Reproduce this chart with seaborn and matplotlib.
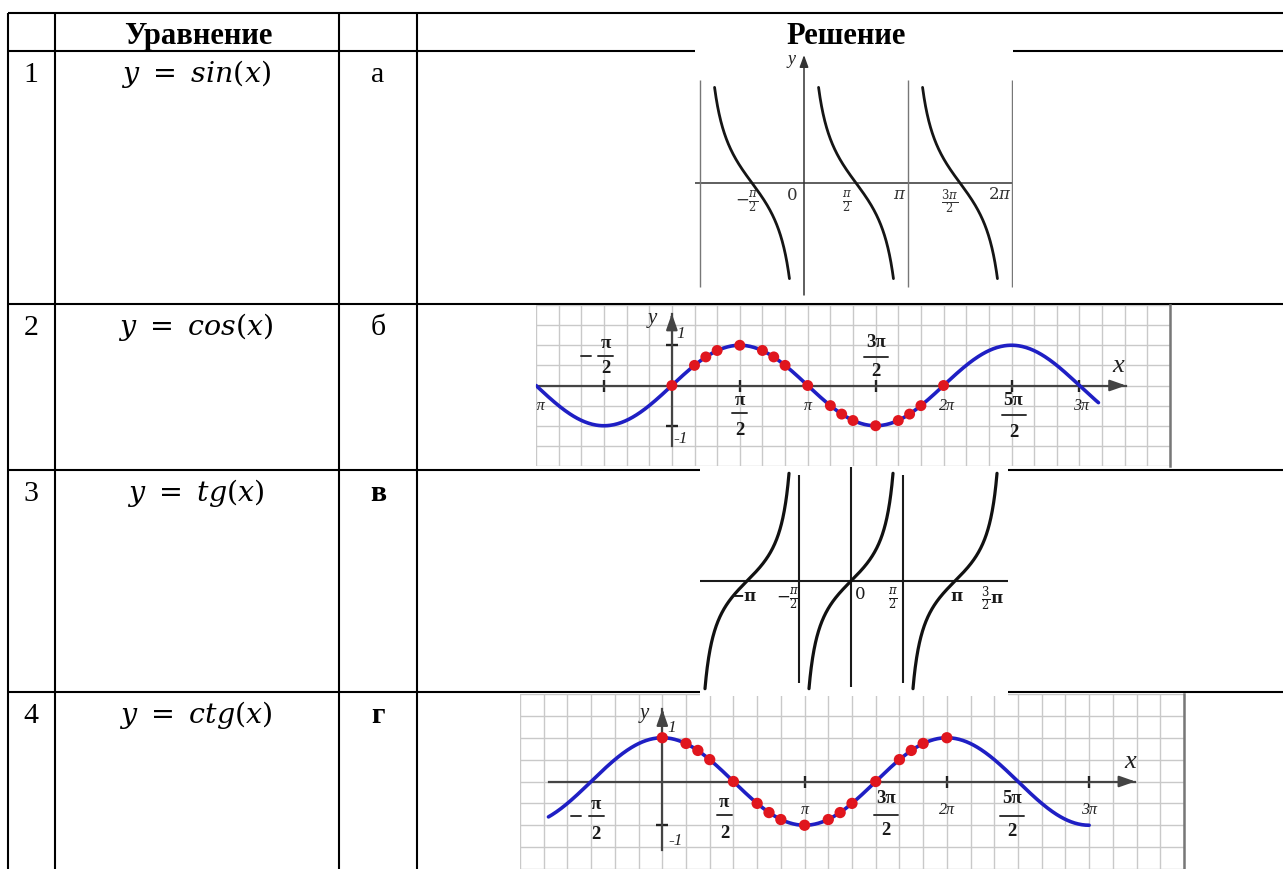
import numpy as np
import matplotlib
matplotlib.use("Agg")
import matplotlib.pyplot as plt
import matplotlib.transforms as mtransforms
from matplotlib.lines import Line2D
import seaborn as sns

PI = np.pi

# ---------------- table content ----------------
row_numbers = ["1", "2", "3", "4"]
equations = [r"$y\ =\ sin(x)$", r"$y\ =\ cos(x)$", r"$y\ =\ tg(x)$", r"$y\ =\ ctg(x)$"]
answer_letters = ["а", "б", "в", "г"]
answer_bold = [False, False, True, True]
header_equation = "Уравнение"
header_solution = "Решение"

# ---------------- graph «а»: y = ctg x ----------------
cot_branch_starts = [-PI, 0.0, PI]           # left asymptote of each drawn branch
cot_branch_span = (0.14, 0.86)               # drawn part of each period (units of pi)
cot_asymptotes = [-PI, PI, 2 * PI]
cot_ticks = [-PI / 2, 0, PI / 2, PI, 3 * PI / 2, 2 * PI]
cot_tick_labels = [r"$-\frac{\pi}{2}$", r"$0$", r"$\frac{\pi}{2}$", r"$\pi$",
                   r"$\frac{3\pi}{2}$", r"$2\pi$"]

# ---------------- graph «б»: y = sin x ----------------
sin_x_range = (-1.0, 3.14)                   # units of pi
marked_angles = [0, 1/6, 1/4, 1/3, 1/2, 2/3, 3/4, 5/6, 1,
                 7/6, 5/4, 4/3, 3/2, 5/3, 7/4, 11/6, 2]   # units of pi
sin_marked_values = [0, 0.5, 0.71, 0.87, 1, 0.87, 0.71, 0.5, 0,
                     -0.5, -0.71, -0.87, -1, -0.87, -0.71, -0.5, 0]
sin_ticks = [-PI / 2, PI / 2, 3 * PI / 2, 5 * PI / 2]
sin_frac_labels = [("π", True), ("π", False), ("3π", False), ("5π", False)]
sin_italic_ticks = [-PI, PI, 2 * PI, 3 * PI]
sin_italic_labels = ["−π", "π", "2π", "3π"]

# ---------------- graph «в»: y = tg x ----------------
tan_branch_centers = [-PI, 0.0, PI]
tan_branch_half = 0.404                      # units of pi
tan_asymptotes = [-PI / 2, PI / 2]
tan_ticks = [-PI, -PI / 2, 0, PI / 2, PI, 3 * PI / 2]
tan_tick_labels = [r"$\mathbf{-\pi}$", r"$-\frac{\pi}{2}$", r"$0$", r"$\frac{\pi}{2}$",
                   r"$\mathbf{\pi}$", r"$\frac{3}{2}\mathbf{\pi}$"]

# ---------------- graph «г»: y = cos x ----------------
cos_x_range = (-0.8, 3.0)                    # units of pi
cos_marked_values = [1, 0.87, 0.71, 0.5, 0, -0.5, -0.71, -0.87, -1,
                     -0.87, -0.71, -0.5, 0, 0.5, 0.71, 0.87, 1]
cos_ticks = [PI, 2 * PI, 3 * PI]
cos_frac_ticks = [-PI / 2, PI / 2, 3 * PI / 2, 5 * PI / 2]
cos_frac_labels = [("π", True), ("π", False), ("3π", False), ("5π", False)]
cos_italic_ticks = [PI, 2 * PI, 3 * PI]
cos_italic_labels = ["π", "2π", "3π"]
unit_ticks = [-1, 1]

# ---------------- style ----------------
sns.set_theme(style="white")
plt.rcParams["font.family"] = ["Liberation Serif", "DejaVu Serif"]
plt.rcParams["mathtext.fontset"] = "dejavuserif"
plt.rcParams["text.color"] = "black"

W, H = 1283, 869
fig = plt.figure(figsize=(W / 100, H / 100), dpi=100)
fig.patch.set_facecolor("white")
ax0 = fig.add_axes([0, 0, 1, 1], zorder=0)
ax0.set_xlim(0, W)
ax0.set_ylim(H, 0)
ax0.axis("off")

# table grid
col_x = [8, 54.5, 339, 417]
row_y = [13, 51, 304, 470, 692]
ax0.vlines(col_x, 13, H, colors="black", lw=1.5)
ax0.hlines(row_y, 8, W, colors="black", lw=1.5)

ax0.text(198, 44, header_equation, ha="center", va="baseline", fontsize=22,
         fontweight="bold", color="black")
ax0.text(846, 44, header_solution, ha="center", va="baseline", fontsize=22,
         fontweight="bold", color="black")
for i in range(4):
    base = row_y[i + 1] + 31
    ax0.text(31, base, row_numbers[i], ha="center", va="baseline", fontsize=21.5,
             color="black")
    ax0.text(196, base, equations[i], ha="center", va="baseline", fontsize=20.5,
             color="black")
    ax0.text(378, base, answer_letters[i], ha="center", va="baseline", fontsize=21.5,
             fontweight="bold" if answer_bold[i] else "normal", color="black")


def make_inset(box, origin, sx, sy, z):
    x0, y0, x1, y1 = box
    ax = fig.add_axes([x0 / W, 1 - y1 / H, (x1 - x0) / W, (y1 - y0) / H], zorder=z)
    ox, oy = origin
    ax.set_xlim((x0 - ox) / sx, (x1 - ox) / sx)
    ax.set_ylim((oy - y1) / sy, (oy - y0) / sy)
    ax.set_facecolor("white")
    for sp in ax.spines.values():
        sp.set_visible(False)
    ax.set_xticks([])
    ax.set_yticks([])
    return ax, (lambda p: (p - ox) / sx), (lambda p: (oy - p) / sy)


def anchor(ax, x, y):
    return mtransforms.Affine2D() + mtransforms.ScaledTranslation(x, y, ax.transData)


def label(ax, x, y, s, dx, dy, clip=False, **kw):
    ax.text(dx, dy, s, transform=anchor(ax, x, y), ha="center", va="center",
            clip_on=clip, **kw)


def frac(ax, x, numer, minus, off, size=13.5):
    dx, dn, db, dd = off
    tr = anchor(ax, x, 0)
    kw = dict(ha="center", va="center", fontsize=size, fontweight="bold",
              color="#1a1a1a", transform=tr)
    ax.text(dx, dn, numer, **kw)
    ax.text(dx, dd, "2", **kw)
    w = 15 if len(numer) == 1 else 24
    ax.add_line(Line2D([dx - w / 2, dx + w / 2], [db, db], transform=tr,
                       color="#333333", lw=1.4))
    if minus:
        ax.add_line(Line2D([dx - 25, dx - 15], [db, db], transform=tr,
                           color="#333333", lw=1.4))


def arrow(ax, x0, y0, x1, y1, color, lw, hl=0.6, hw=0.25):
    ax.annotate("", xy=(x1, y1), xytext=(x0, y0),
                arrowprops=dict(arrowstyle=f"-|>,head_length={hl},head_width={hw}",
                                color=color, lw=lw, shrinkA=0, shrinkB=0))


italic = dict(fontstyle="italic", color="#222222")

# ================= graph «а» (row 1) =================
ax1, px1, py1 = make_inset((695, 49, 1013, 302), (804, 183), 104 / PI, 45, 1)
ax1.axhline(0, color="#333333", lw=1.1)
arrow(ax1, 0, py1(295), 0, py1(55), "#333333", 1.1, 0.6, 0.22)
ax1.vlines(cot_asymptotes, py1(287), py1(80), colors="#777777", lw=1.0)
for a in cot_branch_starts:
    xs = np.linspace(a + cot_branch_span[0] * PI, a + cot_branch_span[1] * PI, 300)
    sns.lineplot(x=xs, y=1 / np.tan(xs), ax=ax1, color="#151515", lw=2.0,
                 sort=False, estimator=None)
cot_offsets = [(-5, -19), (-12, -13), (-9, -19), (-8, -12), (-10, -19), (-12, -12)]
for t, s, (dx, dy) in zip(cot_ticks, cot_tick_labels, cot_offsets):
    label(ax1, t, 0, s, dx, dy, fontsize=12, color="#333333")
label(ax1, 0, py1(55), "y", -12, -5, fontsize=13, **italic)

# ================= graphs with grid =================
def grid_axes(ax, xlo, xtip, ytip, ticks):
    ax.spines["bottom"].set_visible(True)
    ax.spines["left"].set_visible(True)
    ax.spines["right"].set_visible(True)
    ax.spines["bottom"].set_position(("data", 0))
    ax.spines["left"].set_position(("data", 0))
    ax.spines["bottom"].set_bounds(xlo, xtip)
    ax.spines["left"].set_bounds(ax.get_ylim()[0], ytip)
    ax.spines["bottom"].set_color("#444444")
    ax.spines["left"].set_color("#444444")
    ax.spines["bottom"].set_linewidth(1.6)
    ax.spines["left"].set_linewidth(1.6)
    ax.spines["right"].set_color("#777777")
    ax.spines["right"].set_linewidth(1.8)
    ax.set_xticks(ticks)
    ax.set_yticks(unit_ticks)
    ax.set_xticks(np.arange(-6, 23) * PI / 6, minor=True)
    ax.set_yticks(np.arange(-4, 5) * 0.5, minor=True)
    ax.tick_params(which="major", direction="inout", length=8, width=1.7,
                   color="#222222", labelbottom=False, labelleft=False,
                   bottom=True, left=True)
    ax.tick_params(which="minor", length=0)
    ax.grid(True, which="both", color="#c9c9c9", lw=1.0)
    ax.set_axisbelow(True)
    arrow(ax, xtip - 0.2, 0, xtip, 0, "#444444", 1.6, 0.8, 0.28)
    arrow(ax, 0, ytip - 0.1, 0, ytip, "#444444", 1.6, 0.8, 0.28)


# ================= graph «б» (row 2) =================
ax2, px2, py2 = make_inset((536, 305, 1170, 466), (675, 395), 140 / PI, 47, 2)
grid_axes(ax2, ax2.get_xlim()[0], px2(1143), py2(311), sin_ticks + [3 * PI])
xs = np.linspace(sin_x_range[0] * PI, sin_x_range[1] * PI, 600)
sns.lineplot(x=xs, y=np.sin(xs), ax=ax2, color="#1f1fc4", lw=2.6, sort=False,
             estimator=None, zorder=4)
sns.scatterplot(x=np.array(marked_angles) * PI, y=sin_marked_values, ax=ax2,
                color="#e0161e", s=62, edgecolor="none", zorder=5)
sin_frac_off = [(2, 42, 30, 17), (0, -15, -27, -45), (0, 43, 29, 14), (2, -15, -29, -47)]
for t, (num, minus), off in zip(sin_ticks, sin_frac_labels, sin_frac_off):
    frac(ax2, t, num, minus, off)
sin_it_off = [(0, -21), (0, -21), (3, -21), (2, -21)]
for t, s, (dx, dy) in zip(sin_italic_ticks, sin_italic_labels, sin_it_off):
    label(ax2, t, 0, s, dx, dy, clip=True, fontsize=11.5, **italic)
label(ax2, 0, 1, "1", 9, 11, fontsize=12.5, **italic)
label(ax2, 0, -1, "-1", 9, -13, fontsize=12.5, **italic)
label(ax2, px2(1143), 0, "x", -8, 19, fontsize=19, **italic)
label(ax2, 0, py2(311), "y", -19, -5, fontsize=15, **italic)

# ================= graph «г» (row 4) =================
ax4, px4, py4 = make_inset((520, 694, 1184, 869), (643, 787), 154 / PI, 52, 3)
grid_axes(ax4, ax4.get_xlim()[0], px4(1155), py4(701), cos_ticks)
xs = np.linspace(cos_x_range[0] * PI, cos_x_range[1] * PI, 600)
sns.lineplot(x=xs, y=np.cos(xs), ax=ax4, color="#1f1fc4", lw=2.6, sort=False,
             estimator=None, zorder=4)
sns.scatterplot(x=np.array(marked_angles) * PI, y=cos_marked_values, ax=ax4,
                color="#e0161e", s=66, edgecolor="none", zorder=5)
cos_frac_off = [(5, -23, -34, -53), (-9, -21, -33, -52), (10, -17, -33, -49), (-6, -17, -34, -50)]
for t, (num, minus), off in zip(cos_frac_ticks, cos_frac_labels, cos_frac_off):
    frac(ax4, t, num, minus, off)
for t, s in zip(cos_italic_ticks, cos_italic_labels):
    label(ax4, t, 0, s, 0, -28, fontsize=11.5, **italic)
label(ax4, 0, 1, "1", 9, 10, fontsize=12.5, **italic)
label(ax4, 0, -1, "-1", 13, -16, fontsize=12.5, **italic)
label(ax4, px4(1155), 0, "x", -5, 19, fontsize=19, **italic)
label(ax4, 0, py4(701), "y", -18, -4, fontsize=15, **italic)

# ================= graph «в» (row 3) =================
ax3, px3, py3 = make_inset((700, 467, 1008, 696), (851, 581), 104 / PI, 33.5, 4)
ax3.axhline(0, color="#1a1a1a", lw=1.5)
ax3.vlines([0], py3(687), py3(467), colors="#1a1a1a", lw=1.5)
ax3.vlines(tan_asymptotes, py3(683), py3(475), colors="#1a1a1a", lw=1.5)
for c in tan_branch_centers:
    xs = np.linspace(c - tan_branch_half * PI, c + tan_branch_half * PI, 300)
    sns.lineplot(x=xs, y=np.tan(xs), ax=ax3, color="#111111", lw=2.3,
                 sort=False, estimator=None)
tan_offsets = [(-3, -16), (-11, -18), (9, -14), (-10, -18), (2, -16), (-14, -18)]
for t, s, (dx, dy) in zip(tan_ticks, tan_tick_labels, tan_offsets):
    label(ax3, t, 0, s, dx, dy, fontsize=12, color="#1a1a1a")

fig.savefig("out.png", dpi=100, facecolor="white")
